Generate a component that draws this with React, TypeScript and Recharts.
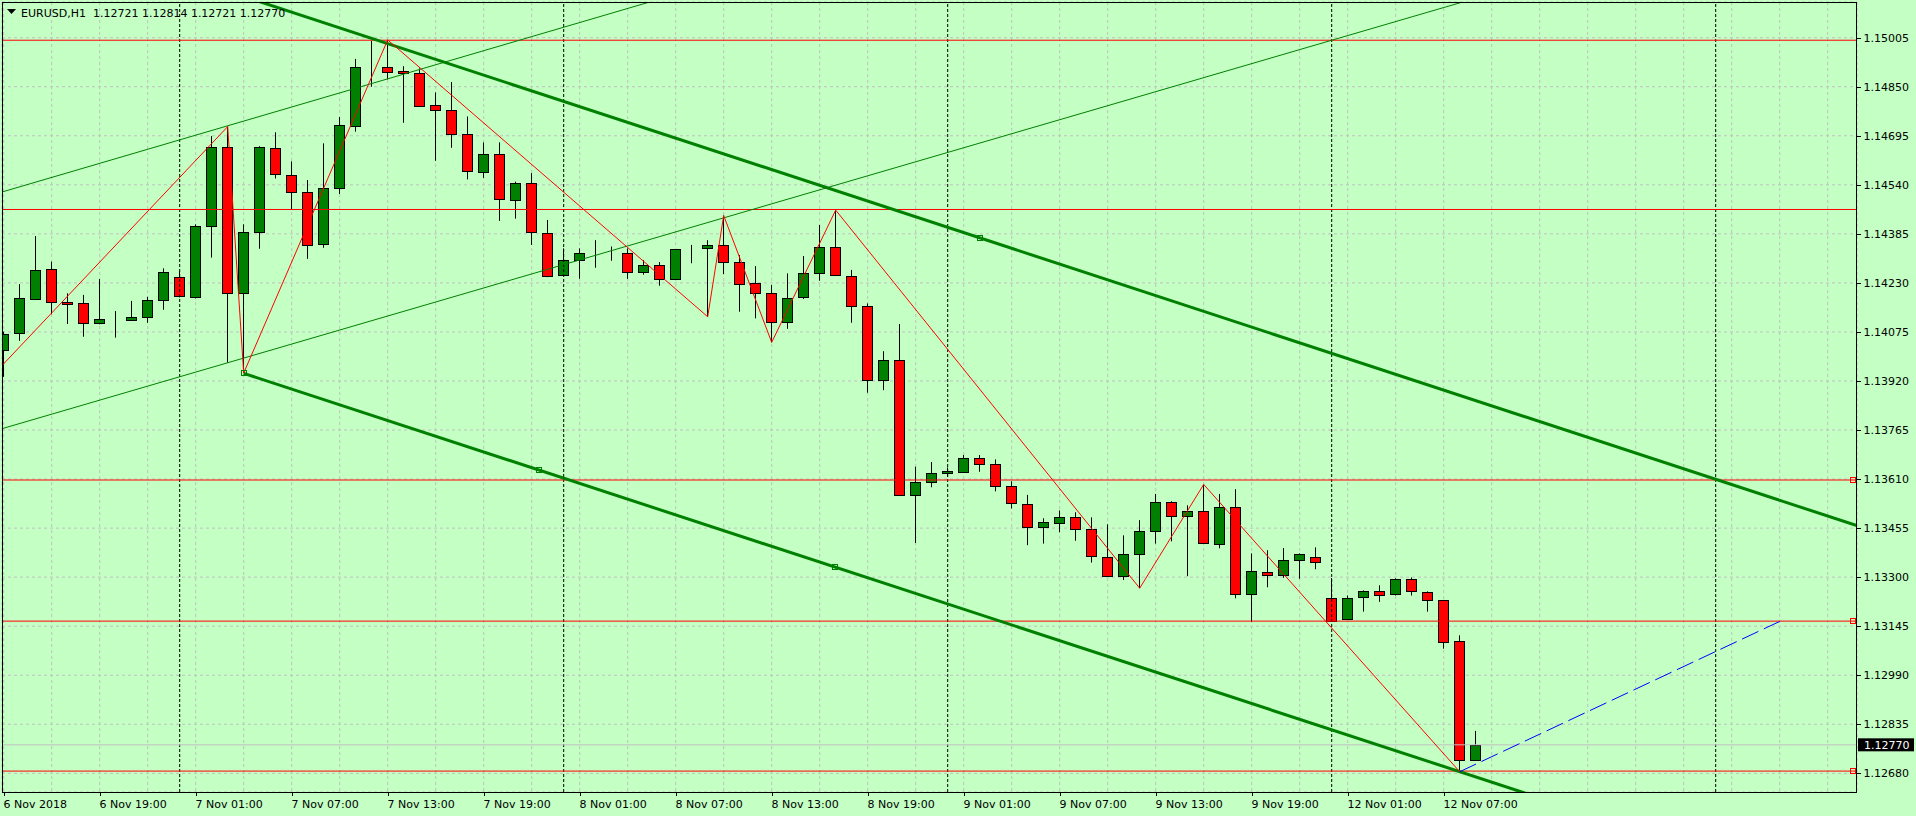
import {
  ComposedChart,
  Bar,
  XAxis,
  YAxis,
  CartesianGrid,
  ReferenceLine,
  ReferenceDot,
} from 'recharts';

// EURUSD H1, bars 6 Nov 13:00 .. 12 Nov 09:00 (index = hours from first bar, weekend skipped)
const opens = [
  1.14017, 1.14071, 1.14178, 1.14273, 1.14169, 1.14166, 1.14104, 1.14112, 1.14112, 1.14121,
  1.14175, 1.14248, 1.14186, 1.14409, 1.14658, 1.14197, 1.14392, 1.14655, 1.1457, 1.14516,
  1.14352, 1.14529, 1.14727, 1.14911, 1.14911, 1.149, 1.14893, 1.14791, 1.14775, 1.147,
  1.14581, 1.14636, 1.14491, 1.14545, 1.14387, 1.14254, 1.14301, 1.14323, 1.14325, 1.14323,
  1.14263, 1.14285, 1.14243, 1.14336, 1.14339, 1.14349, 1.14295, 1.14229, 1.14197, 1.14105,
  1.14184, 1.1426, 1.14342, 1.14253, 1.14156, 1.13922, 1.13985, 1.13559, 1.136, 1.13628,
  1.13631, 1.13675, 1.13657, 1.13587, 1.1353, 1.13459, 1.1347, 1.13489, 1.13451, 1.13363,
  1.13303, 1.13372, 1.13445, 1.13536, 1.13492, 1.13508, 1.13404, 1.13521, 1.13246, 1.13315,
  1.13306, 1.13353, 1.13363, 1.13233, 1.13167, 1.13236, 1.13255, 1.13246, 1.13293, 1.13252,
  1.13227, 1.13097, 1.12721,
];
const highs = [
  1.14076, 1.14226, 1.14378, 1.14297, 1.14197, 1.14192, 1.14242, 1.14141, 1.14173, 1.14186,
  1.14276, 1.14267, 1.14415, 1.14694, 1.14724, 1.14415, 1.14662, 1.14706, 1.14614, 1.14555,
  1.14671, 1.14754, 1.14938, 1.14995, 1.14998, 1.14915, 1.14908, 1.14832, 1.14865, 1.14756,
  1.14674, 1.14674, 1.1455, 1.14577, 1.14429, 1.14339, 1.14339, 1.14365, 1.14345, 1.14339,
  1.14302, 1.14296, 1.14337, 1.1435, 1.14365, 1.14443, 1.14318, 1.14283, 1.14223, 1.1426,
  1.14315, 1.14413, 1.1446, 1.14271, 1.14165, 1.14014, 1.141, 1.13649, 1.13664, 1.13647,
  1.13686, 1.13686, 1.13672, 1.13603, 1.1356, 1.13486, 1.13511, 1.13505, 1.13489, 1.13467,
  1.13432, 1.1348, 1.13563, 1.1354, 1.13527, 1.13593, 1.13563, 1.13578, 1.13375, 1.13385,
  1.13392, 1.13375, 1.13394, 1.13297, 1.13242, 1.13258, 1.13274, 1.13296, 1.13299, 1.13255,
  1.13228, 1.13116, 1.12814,
];
const lows = [
  1.13933, 1.14047, 1.14176, 1.14131, 1.141, 1.1406, 1.14099, 1.14057, 1.1411, 1.14104,
  1.14145, 1.14184, 1.14181, 1.1431, 1.13978, 1.13945, 1.14338, 1.1456, 1.14462, 1.14306,
  1.14341, 1.14511, 1.14708, 1.1485, 1.14873, 1.14736, 1.14787, 1.14616, 1.14657, 1.14557,
  1.14562, 1.14426, 1.14433, 1.1435, 1.14248, 1.14252, 1.14243, 1.14278, 1.143, 1.14243,
  1.14256, 1.14221, 1.14242, 1.14292, 1.14123, 1.14258, 1.14139, 1.14118, 1.14042, 1.14085,
  1.14179, 1.14237, 1.14252, 1.14104, 1.13883, 1.13891, 1.13557, 1.13408, 1.13584, 1.13617,
  1.1363, 1.13633, 1.13571, 1.13517, 1.13401, 1.13406, 1.13442, 1.13415, 1.13346, 1.13302,
  1.13291, 1.13265, 1.13406, 1.13413, 1.13303, 1.13406, 1.13391, 1.13233, 1.13159, 1.13268,
  1.13298, 1.13295, 1.13325, 1.13158, 1.13166, 1.13191, 1.13222, 1.13242, 1.13242, 1.13191,
  1.13074, 1.12685, 1.12721,
];
const closes = [
  1.14068, 1.14181, 1.1427, 1.14171, 1.14162, 1.14104, 1.14115, 1.14113, 1.14122, 1.14175,
  1.14263, 1.14188, 1.14409, 1.14658, 1.14197, 1.1439, 1.14658, 1.14573, 1.14516, 1.14349,
  1.14529, 1.14729, 1.14911, 1.14912, 1.14896, 1.14893, 1.1479, 1.14775, 1.147, 1.14583,
  1.14636, 1.14496, 1.14545, 1.1439, 1.14251, 1.14301, 1.14323, 1.14324, 1.14324, 1.14263,
  1.14285, 1.14243, 1.14336, 1.14338, 1.14349, 1.14295, 1.14226, 1.14197, 1.14105, 1.14181,
  1.1426, 1.14342, 1.14254, 1.14156, 1.13922, 1.13985, 1.13559, 1.136, 1.13628, 1.13634,
  1.13675, 1.13657, 1.13587, 1.13533, 1.13457, 1.13473, 1.13489, 1.13451, 1.13366, 1.13303,
  1.13372, 1.13445, 1.13536, 1.13492, 1.13508, 1.13407, 1.13521, 1.13246, 1.13318, 1.13306,
  1.13353, 1.13372, 1.13347, 1.1316, 1.13233, 1.13255, 1.13242, 1.13293, 1.13255, 1.13227,
  1.13094, 1.12721, 1.1277,
];

// axis labels, one every 6 bars
const timeLabels = [
  '6 Nov 2018', '6 Nov 19:00', '7 Nov 01:00', '7 Nov 07:00', '7 Nov 13:00', '7 Nov 19:00',
  '8 Nov 01:00', '8 Nov 07:00', '8 Nov 13:00', '8 Nov 19:00', '9 Nov 01:00', '9 Nov 07:00',
  '9 Nov 13:00', '9 Nov 19:00', '12 Nov 01:00', '12 Nov 07:00',
];
const gridBars = [
  0, 3, 6, 9, 12, 15, 18, 21, 24, 27, 30, 33, 36, 39, 42, 45, 48, 51, 54, 57, 60, 63, 66, 69,
  72, 75, 78, 81, 84, 87, 90, 93, 96, 99, 102, 105, 108, 111, 114,
];
const priceTicks = [
  1.1268, 1.12835, 1.1299, 1.13145, 1.133, 1.13455, 1.1361, 1.13765, 1.1392, 1.14075, 1.1423,
  1.14385, 1.1454, 1.14695, 1.1485, 1.15005,
];
const header = ['EURUSD,H1', '1.12721', '1.12814', '1.12721', '1.12770'];
const lastPrice = 1.1277;

// objects on the chart
const daySeparators = [11, 35, 59, 83, 107];
const levels = [1.14997, 1.14462, 1.13607, 1.13161, 1.12687];
const markedLevels = [1.13607, 1.13161, 1.12687];
const zigzag = [
  { i: -0.1, p: 1.13969 },
  { i: 14, p: 1.14724 },
  { i: 15, p: 1.13945 },
  { i: 24, p: 1.14998 },
  { i: 44, p: 1.14123 },
  { i: 45, p: 1.14443 },
  { i: 48, p: 1.14042 },
  { i: 52, p: 1.1446 },
  { i: 71, p: 1.13265 },
  { i: 75, p: 1.13593 },
  { i: 91, p: 1.12685 },
];
const channelTop = [{ i: 14, p: 1.15152 }, { i: 116, p: 1.1346 }];
const channelBottom = [{ i: 15, p: 1.13944 }, { i: 116, p: 1.12271 }];
const upTrendHigh = [{ i: -1, p: 1.14504 }, { i: 60, p: 1.15409 }];
const upTrendLow = [{ i: -1, p: 1.13756 }, { i: 100, p: 1.15248 }];
const projection = [{ i: 91, p: 1.12685 }, { i: 111, p: 1.1316 }];
const channelMarks = [
  { i: 15, p: 1.13944 },
  { i: 33.45, p: 1.13638 },
  { i: 51.93, p: 1.13332 },
  { i: 61, p: 1.14372 },
];

const candles = opens.map((open, i) => ({
  i,
  open,
  high: highs[i],
  low: lows[i],
  close: closes[i],
}));

const BG = '#c4ffc4';
const FONT = 'DejaVu Sans';

const Candle = (props: any) => {
  const { x, y, width, height, payload } = props;
  const { open, close, high, low } = payload;
  const yHigh = Math.min(y, y + height);
  const yLow = Math.max(y, y + height);
  const toY = (p: number) => yHigh + ((high - p) / (high - low)) * (yLow - yHigh);
  const cx = Math.round(x + width / 2) + 0.5;
  const top = Math.round(Math.min(toY(open), toY(close))) + 0.5;
  const bot = Math.round(Math.max(toY(open), toY(close))) + 0.5;
  const bull = close >= open;
  return (
    <g>
      <line x1={cx} x2={cx} y1={yHigh} y2={yLow} stroke="#000" strokeWidth={1} />
      <rect
        x={cx - 5}
        y={top}
        width={10}
        height={Math.max(bot - top, 0)}
        fill={bull ? '#008000' : '#ff0000'}
        stroke="#000"
        strokeWidth={1}
      />
    </g>
  );
};

const TimeTick = ({ x, y, payload }: any) => {
  const v = payload.value;
  const label = v % 6 === 0 ? timeLabels[v / 6] : undefined;
  if (!label) return <g />;
  const tx = Math.round(x) + 0.5;
  return (
    <g>
      <line x1={tx} x2={tx} y1={y} y2={y + 4} stroke="#000" />
      <text x={tx - 1} y={y + 16} fontSize={11} fontFamily={FONT} fill="#000">
        {label}
      </text>
    </g>
  );
};

const PriceTick = ({ x, y, payload }: any) => {
  const ty = Math.round(y) + 0.5;
  return (
    <g>
      <line x1={x} x2={x + 4} y1={ty} y2={ty} stroke="#000" />
      <text x={x + 6.5} y={y + 4} fontSize={11} fontFamily={FONT} fill="#000">
        {payload.value.toFixed(5)}
      </text>
    </g>
  );
};

const PriceTag = (props: any) => {
  const { viewBox } = props;
  const left = viewBox.x + viewBox.width + 1;
  return (
    <g>
      <rect x={left} y={viewBox.y - 6.5} width={56} height={13} fill="#000" />
      <text x={left + 6} y={viewBox.y + 4} fontSize={11} fontFamily={FONT} fill="#fff">
        {lastPrice.toFixed(5)}
      </text>
    </g>
  );
};

const seg = (pts: { i: number; p: number }[]) => pts.map((pt) => ({ x: pt.i, y: pt.p }));

const square = (color: string) => (props: any) =>
  (
    <rect
      x={Math.round(props.cx) - 2.5}
      y={Math.round(props.cy) - 2.5}
      width={5}
      height={5}
      fill="none"
      stroke={color}
      strokeWidth={1}
    />
  );

export default function App() {
  return (
    <div
      style={{
        position: 'absolute',
        left: 0,
        top: 0,
        width: 1916,
        height: 816,
        background: BG,
        overflow: 'hidden',
      }}
    >
      <ComposedChart
        width={1916}
        height={816}
        data={candles}
        margin={{ top: 2, left: 2, right: 0, bottom: 0 }}
      >
        <CartesianGrid stroke="#c0c0c0" strokeDasharray="3 3" />
        <XAxis
          dataKey="i"
          type="number"
          domain={[-0.10625, 115.83125]}
          allowDataOverflow
          ticks={gridBars}
          interval={0}
          height={24}
          axisLine={false}
          tickLine={false}
          tickSize={0}
          tickMargin={0}
          tick={<TimeTick />}
        />
        <YAxis
          orientation="right"
          type="number"
          domain={[1.126209, 1.151178]}
          allowDataOverflow
          ticks={priceTicks}
          interval={0}
          width={59}
          axisLine={false}
          tickLine={false}
          tickSize={0}
          tickMargin={0}
          tick={<PriceTick />}
        />
        <Bar
          dataKey={(d: any) => [d.low, d.high]}
          barSize={11}
          shape={(p: any) => <Candle {...p} />}
          isAnimationActive={false}
        />
        {daySeparators.map((d) => (
          <ReferenceLine key={'d' + d} x={d} stroke="#000" strokeDasharray="3 2" />
        ))}
        <ReferenceLine y={lastPrice} stroke="#c0c0c0" label={<PriceTag />} />
        {levels.map((l) => (
          <ReferenceLine key={'l' + l} y={l} stroke="#ff0000" />
        ))}
        {markedLevels.map((l) => (
          <ReferenceDot key={'m' + l} x={115.6} y={l} shape={square('#ff0000')} />
        ))}
        <ReferenceLine segment={seg(upTrendHigh)} stroke="#008000" ifOverflow="hidden" />
        <ReferenceLine segment={seg(upTrendLow)} stroke="#008000" ifOverflow="hidden" />
        <ReferenceLine segment={seg(channelTop)} stroke="#008000" strokeWidth={3} ifOverflow="hidden" />
        <ReferenceLine segment={seg(channelBottom)} stroke="#008000" strokeWidth={3} ifOverflow="hidden" />
        {zigzag.slice(1).map((pt, k) => (
          <ReferenceLine
            key={'z' + k}
            segment={seg([zigzag[k], pt])}
            stroke="#ff0000"
            ifOverflow="hidden"
          />
        ))}
        <ReferenceLine
          segment={seg(projection)}
          stroke="#0000ff"
          strokeDasharray="18 6"
          ifOverflow="hidden"
        />
        {channelMarks.map((m) => (
          <ReferenceDot key={'c' + m.i} x={m.i} y={m.p} shape={square('#008000')} />
        ))}
      </ComposedChart>
      <div
        style={{
          position: 'absolute',
          left: 2,
          top: 2,
          width: 1855,
          height: 791,
          border: '1px solid #000',
          boxSizing: 'border-box',
          pointerEvents: 'none',
        }}
      />
      <svg
        width={320}
        height={22}
        style={{ position: 'absolute', left: 0, top: 0 }}
      >
        <polygon points="7,9 16,9 11.5,14" fill="#000" />
        <text x={21} y={16.5} fontSize={11} fontFamily={FONT} fill="#000" style={{ whiteSpace: 'pre' }}>
          {header[0] + '  ' + header.slice(1).join(' ')}
        </text>
      </svg>
    </div>
  );
}
